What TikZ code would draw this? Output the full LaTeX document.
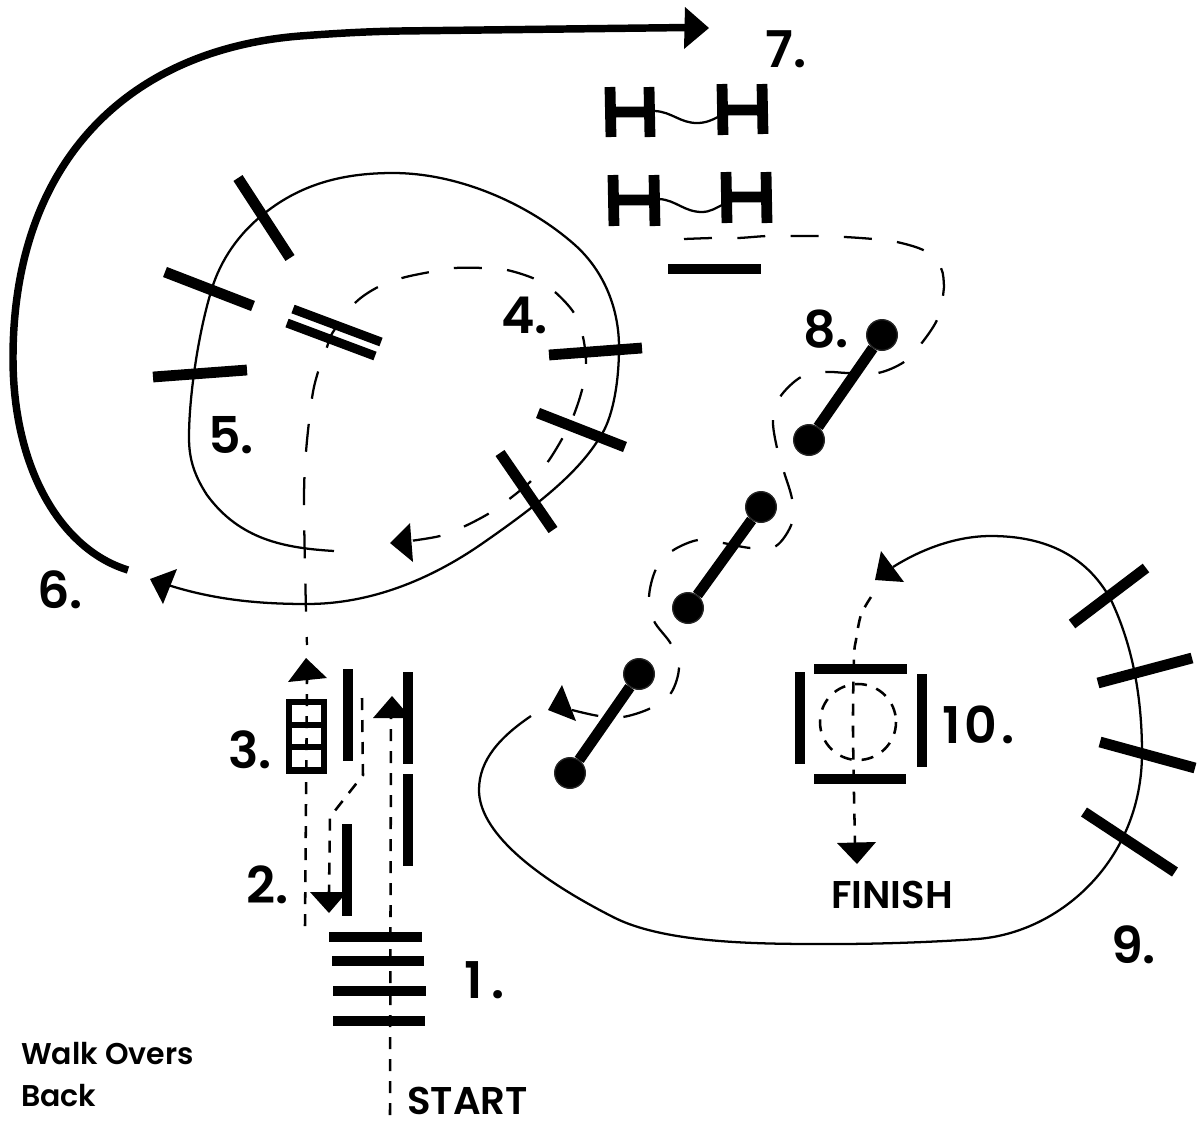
\documentclass[tikz,border=0pt]{standalone}
\usepackage{fontspec}
\setmainfont{Poppins SemiBold}
\tikzset{
  x=0.75pt,y=-0.75pt,
  rail/.style={line width=8.1pt,line cap=butt},
  thinrail/.style={line width=6.8pt,line cap=butt},
  course/.style={line width=1.7pt},
  heavy/.style={line width=5.6pt},
  shortdash/.style={line width=1.9pt,dash pattern=on 9pt off 7.5pt},
  longdash/.style={line width=1.7pt,dash pattern=on 21pt off 19pt},
  tip/.style={fill=black,draw=none},
  ball/.style={circle,fill=black,draw=black!85,line width=1pt,minimum size=23pt,inner sep=0pt},
  num/.style={anchor=base west,inner sep=0pt,font=\fontsize{38}{38}\selectfont},
  word/.style={anchor=base west,inner sep=0pt,font=\fontsize{29}{29}\selectfont},
  small/.style={anchor=base west,inner sep=0pt,font=\fontsize{22.5}{22.5}\selectfont},
}
\begin{document}
\begin{tikzpicture}
\useasboundingbox (0,0) rectangle (1197,1122);
% 1. ground rails
\draw[rail] (329,937)--(422,937);
\draw[rail] (332,961)--(424,961);
\draw[rail] (333,991)--(426,991);
\draw[rail] (333,1021)--(425,1021);
% 2. lane
\draw[rail] (348,669)--(348,761);
\draw[rail] (408,672)--(408,764);
\draw[rail] (408,774)--(408,866);
\draw[rail] (347,824)--(347,916);
% 3. box
\draw[line width=4.6pt] (289,702) rectangle (324,770.5);
\draw[line width=4.4pt] (289,725)--(324,725) (289,747)--(324,747);
% 4-5 rails
\draw[rail] (238,178)--(290,258);
\draw[rail] (165,272)--(253,306);
\draw[rail] (153,377)--(247,370);
\draw[thinrail] (293,309)--(381,342);
\draw[thinrail] (287,323)--(375,356);
\draw[rail] (549,355)--(642,348);
\draw[rail] (538,413)--(625,447);
\draw[rail] (500,453)--(553,530);
% 7. H pieces
\draw[rail] (610,87)--(611,137) (649,87)--(650,137) (610,112)--(650,112);
\draw[rail] (722,84)--(723,135) (762,84)--(763,134) (722,110)--(763,110);
\draw[rail] (613,175)--(614,226) (654,175)--(655,226) (613,200)--(655,200);
\draw[rail] (726,172)--(727,223) (766,172)--(767,223) (726,197)--(767,197);
\draw[course] (655,111) .. controls (672,112) and (680,123) .. (697,123) .. controls (706,123) and (712,120) .. (718,117);
\draw[course] (659,199) .. controls (676,200) and (684,212) .. (702,212) .. controls (710,212) and (716,208) .. (722,205);
\draw[rail] (668,269)--(761,269);
% 9 rails
\draw[rail] (1072,624)--(1146,568);
\draw[rail] (1098,683)--(1192,658);
\draw[rail] (1100,742)--(1195,768);
\draw[rail] (1084,812)--(1175,872);
% 10 box
\draw[rail] (814,669)--(907,669);
\draw[rail] (814,779)--(906,779);
\draw[rail] (800,672)--(800,764);
\draw[rail] (922,674)--(922,767);
\draw[shortdash] (858,722) circle[radius=38];
% 8 poles
\node[ball] (a1) at (882,335) {};
\node[ball] (a2) at (809,440) {};
\node[ball] (b1) at (761,507) {};
\node[ball] (b2) at (688,608) {};
\node[ball] (c1) at (639,674) {};
\node[ball] (c2) at (570,773) {};
\draw[rail] (a1)--(a2);
\draw[rail] (b1)--(b2);
\draw[rail] (c1)--(c2);
% solid loop 4-5
\draw[course] (334,551) .. controls (285,548) and (240,540) .. (207,495)
  .. controls (192,472) and (189,455) .. (189,437)
  .. controls (189,400) and (197,340) .. (210,295)
  .. controls (218,265) and (235,238) .. (260,217)
  .. controls (300,183) and (345,173) .. (393,173)
  .. controls (460,173) and (530,205) .. (575,245)
  .. controls (605,272) and (619,310) .. (619,347)
  .. controls (619,385) and (612,420) .. (600,437)
  .. controls (580,470) and (545,500) .. (483,543)
  .. controls (430,580) and (370,604) .. (307,604)
  .. controls (260,604) and (215,600) .. (168,585);
\fill[tip] (150,579)--(177,569)--(163,604)--cycle;
% heavy 6
\draw[heavy] (128,570) .. controls (62,550) and (13,470) .. (13,358)
  .. controls (13,165) and (125,50) .. (300,36)
  .. controls (340,33) and (370,31.5) .. (400,31)
  -- (688,27.5);
\fill[tip] (709,28)--(685,7)--(684,49)--cycle;
% solid loop 9
\draw[course] (531,716) .. controls (500,737) and (479,760) .. (479,790)
  .. controls (479,830) and (530,875) .. (615,918)
  .. controls (670,945) and (770,944) .. (836,944)
  .. controls (880,944) and (935,942) .. (977,939)
  .. controls (1060,933) and (1142,860) .. (1142,753)
  .. controls (1142,690) and (1130,640) .. (1111,600)
  .. controls (1085,552) and (1040,536) .. (991,536)
  .. controls (955,536) and (920,550) .. (893,567);
\fill[tip] (875,580)--(881,551)--(904,582)--cycle;
% dashed courses
\draw[shortdash] (390,1115)--(391,718);
\fill[tip] (392,696)--(373,718)--(411,718)--cycle;
\draw[shortdash] (362,698)--(363,775)--(330,817)--(329,892);
\fill[tip] (329,913)--(310,892)--(347,892)--cycle;
\draw[shortdash] (305,926)--(307,680);
\fill[tip] (306,658)--(288,682)--(327,678)--cycle;
\draw[longdash,dash phase=15pt] plot[smooth,tension=0.55] coordinates {(307,645)(306,612)(304,503)(306,452)(312,398)(318,372)(327,347)(333,332)(355,303)(378,287)(402,278)(430,272)(455,268)(483,268)(507,270)(535,279)(555,292)(574,313)(583,337)(586,365)(582,390)(573,417)(562,439)(547,463)(530,482)(508,500)(488,514)(463,527)(440,536)(410,541)};
\fill[tip] (390,543)--(410,523)--(413,562)--cycle;
\draw[longdash] plot[smooth,tension=0.55] coordinates {(684,239)(713,238)(738,238)(767,236)(792,236)(820,236)(845,237)(873,239)(897,242)(925,251)(941,268)(944,287)(943,296)(937,320)(921,344)(904,362)(878,373)(848,373)(825,372)(801,377)(780,397)(773,420)(777,448)(784,472)(792,499)(792,523)(776,546)(751,548)(723,543)(698,540)(672,551)(656,569)(649,597)(654,621)(671,644)(679,667)(671,693)(651,708)(623,717)(599,716)(572,710)};
\fill[tip] (548,710)--(562,685)--(576,721)--cycle;
\draw[shortdash] plot[smooth,tension=0.55] coordinates {(871,597)(861,615)(856,640)(854,658)(853,730)(855,843)};
\fill[tip] (857,864)--(837,843)--(876,842)--cycle;
% labels
\node[num] (n1) at (464,998) {1\kern7pt.};
\node[num] (n2) at (246,903) {2.};
\node[num] (n3) at (228,768) {3.};
\node[num] (n4) at (501,333) {4.};
\node[num] (n5) at (208,453) {5.};
\node[num] (n6) at (37,608) {6.};
\node[num] (n7) at (765,67) {7.};
\node[num] (n8) at (803,347) {8.};
\node[num] (n9) at (1111,963) {9.};
\node[num] (n10) at (942,743) {1\kern3pt0\kern3pt.};
\node[word] (fin) at (831,908) {FINISH};
\node[word] (sta) at (407,1114) {START};
\node[small] (w1) at (21,1064) {Walk Overs};
\node[small] (w2) at (21,1106) {Back};
\end{tikzpicture}
\end{document}
